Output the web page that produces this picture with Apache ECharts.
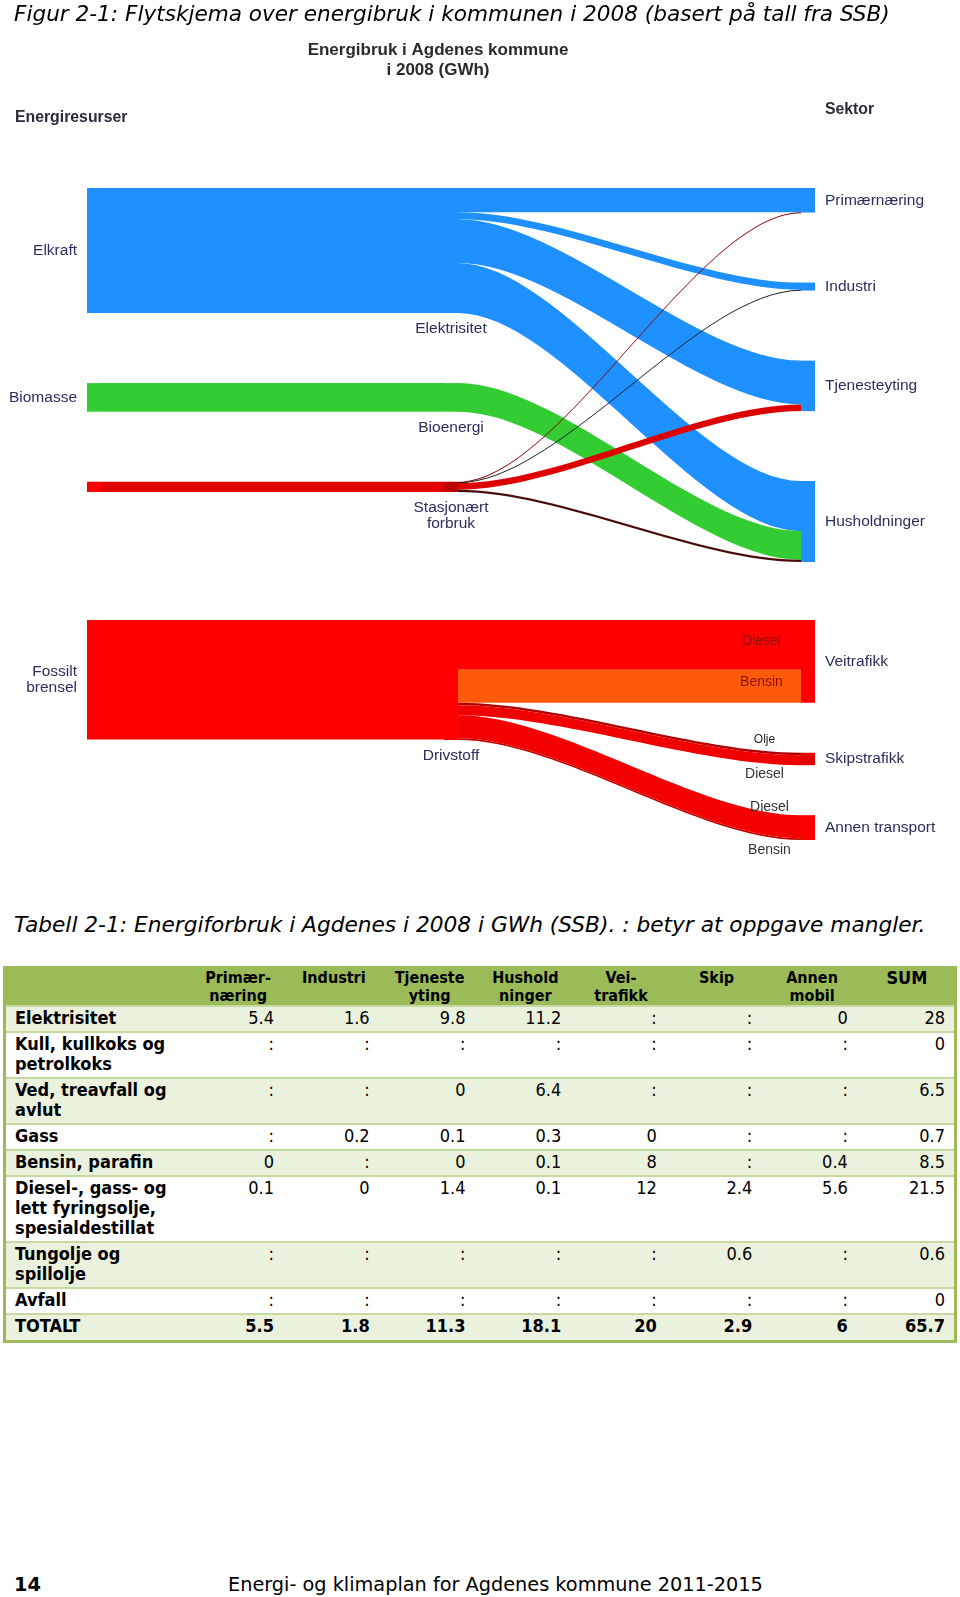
<!DOCTYPE html>
<html><head><meta charset="utf-8">
<script src="https://cdn.jsdelivr.net/npm/echarts@6/dist/echarts.min.js"></script>
<style>
html,body{margin:0;padding:0;background:#fff;}
body{width:960px;height:1597px;position:relative;overflow:hidden;}
.cond{font-family:'DejaVu Sans Condensed','DejaVu Sans',sans-serif;font-stretch:condensed;}
.reg{font-family:'DejaVu Sans',sans-serif;}
#cap{position:absolute;left:14px;top:1px;font-size:21.6px;font-style:italic;color:#000;z-index:2;white-space:nowrap;}
#chart{position:absolute;left:0;top:0;width:960px;height:900px;}
#tcap{position:absolute;left:14px;top:912px;font-size:21.7px;font-style:italic;color:#000;white-space:nowrap;}
#tbl{position:absolute;left:3px;top:966px;width:954px;border-collapse:collapse;border:3px solid #9BBB59;}
#tbl td,#tbl th{padding:1px 12px 3px 8px;vertical-align:top;line-height:20px;font-size:18px;color:#000;}
#tbl th{background:#9BBB59;font-size:16px;line-height:17.5px;text-align:center;padding:0 4px 1px 4px;}
#tbl th.sum{font-size:18px;}
#tbl td{text-align:right;font-weight:normal;border-top:2px solid #C6D9A0;}
#tbl td.last{padding-right:9px;}
#tbl td.name{text-align:left;font-weight:bold;padding-left:9px;}
#tbl tr.band td{background:#EAF1DD;}
#tbl tr.tot td{font-weight:bold;padding-bottom:4px;}
#f1{position:absolute;left:14px;top:1573px;font-size:19.3px;font-weight:bold;}
#f2{position:absolute;left:228px;top:1573px;font-size:19.3px;}
</style></head>
<body>
<div id="cap" class="reg">Figur 2-1: Flytskjema over energibruk i kommunen i 2008 (basert på tall fra SSB)</div>
<div id="chart"></div>
<div id="tcap" class="reg">Tabell 2-1: Energiforbruk i Agdenes i 2008 i GWh (SSB). : betyr at oppgave mangler.</div>
<table id="tbl" class="cond"></table>
<div id="f1" class="reg">14</div>
<div id="f2" class="reg">Energi- og klimaplan for Agdenes kommune 2011-2015</div>
<script>
// ---------- Flow diagram data ----------
// Part A: electricity, bioenergy and stationary fossil use
const sourceNodesA = ['Elkraft', 'Biomasse', 'Fossilt (stasjonært)'];
const carrierNodesA = ['Elektrisitet', 'Bioenergi', 'Stasjonært forbruk'];
const sectorNodesA = ['Primærnæring', 'Industri', 'Tjenesteyting', 'Husholdninger'];
const linkFromA  = ['Elkraft', 'Biomasse', 'Fossilt (stasjonært)',
  'Elektrisitet', 'Elektrisitet', 'Elektrisitet', 'Elektrisitet',
  'Bioenergi',
  'Stasjonært forbruk', 'Stasjonært forbruk', 'Stasjonært forbruk', 'Stasjonært forbruk'];
const linkToA    = ['Elektrisitet', 'Bioenergi', 'Stasjonært forbruk',
  'Primærnæring', 'Industri', 'Tjenesteyting', 'Husholdninger',
  'Husholdninger',
  'Primærnæring', 'Industri', 'Tjenesteyting', 'Husholdninger'];
const linkValueA = [28, 6.4, 2.3,
  5.4, 1.6, 9.8, 11.2,
  6.4,
  0.1, 0.2, 1.5, 0.5];
const linkColorA = ['#1E90FF', '#33CC33', '#E00000',
  '#1E90FF', '#1E90FF', '#1E90FF', '#1E90FF',
  '#33CC33',
  '#8B0000', '#222222', '#DD0000', '#4A0A0A'];

// Part B: transport fuels
const sourceNodesB = ['Fossilt brensel'];
const carrierNodesB = ['Drivstoff'];
const sectorNodesB = ['Veitrafikk', 'Skipstrafikk', 'Annen transport'];
const linkFromB  = ['Fossilt brensel', 'Drivstoff', 'Drivstoff', 'Drivstoff', 'Drivstoff', 'Drivstoff', 'Drivstoff'];
const linkToB    = ['Drivstoff', 'Veitrafikk', 'Veitrafikk', 'Skipstrafikk', 'Skipstrafikk', 'Annen transport', 'Annen transport'];
const linkValueB = [28.9, 12, 8, 0.6, 2.4, 5.6, 0.4];
const linkFuelB  = ['', 'Diesel', 'Bensin', 'Olje', 'Diesel', 'Diesel', 'Bensin'];
const linkColorB = ['#FF0000', '#FF0000', '#FF5A0A', '#B00000', '#F00000', '#F40000', '#C00000'];

// label placement styling (not data)
const fuelLabelStyle = {
  'Veitrafikk|Diesel': {offset: [132, -4], color: '#8a1010'},
  'Veitrafikk|Bensin': {offset: [132, -4], color: '#8a1010'},
  'Skipstrafikk|Olje': {offset: [135, 11], color: '#222', fontSize: 12},
  'Skipstrafikk|Diesel': {offset: [135, 39], color: '#333'},
  'Annen transport|Diesel': {offset: [140, 30], color: '#333'},
  'Annen transport|Bensin': {offset: [140, 61], color: '#333'}
};

const nodeLabels = {'Fossilt brensel': 'Fossilt\nbrensel', 'Stasjonært forbruk': 'Stasjonært\nforbruk', 'Fossilt (stasjonært)': ''};
const nodeColor = {
  'Elkraft': '#1E90FF', 'Biomasse': '#33CC33', 'Fossilt (stasjonært)': '#FF0000', 'Fossilt brensel': '#FF0000',
  'Elektrisitet': '#1E90FF', 'Bioenergi': '#33CC33', 'Stasjonært forbruk': '#C00000', 'Drivstoff': '#FF0000',
  'Primærnæring': '#1E90FF', 'Industri': '#1E90FF', 'Tjenesteyting': '#1E90FF', 'Husholdninger': '#1E90FF',
  'Veitrafikk': '#FF0000', 'Skipstrafikk': '#E00000', 'Annen transport': '#FF0000'
};

// ---------- Table data ----------
const colHeads = ['Primær-\nnæring', 'Industri', 'Tjeneste\nyting', 'Hushold\nninger', 'Vei-\ntrafikk', 'Skip', 'Annen\nmobil', 'SUM'];
const rowNames = ['Elektrisitet', 'Kull, kullkoks og\npetrolkoks', 'Ved, treavfall og\navlut', 'Gass', 'Bensin, parafin',
  'Diesel-, gass- og\nlett fyringsolje,\nspesialdestillat', 'Tungolje og\nspillolje', 'Avfall', 'TOTALT'];
const rowElektrisitet = ['5.4', '1.6', '9.8', '11.2', ':', ':', '0', '28'];
const rowKull         = [':', ':', ':', ':', ':', ':', ':', '0'];
const rowVed          = [':', ':', '0', '6.4', ':', ':', ':', '6.5'];
const rowGass         = [':', '0.2', '0.1', '0.3', '0', ':', ':', '0.7'];
const rowBensin       = ['0', ':', '0', '0.1', '8', ':', '0.4', '8.5'];
const rowDiesel       = ['0.1', '0', '1.4', '0.1', '12', '2.4', '5.6', '21.5'];
const rowTungolje     = [':', ':', ':', ':', ':', '0.6', ':', '0.6'];
const rowAvfall       = [':', ':', ':', ':', ':', ':', ':', '0'];
const rowTotalt       = ['5.5', '1.8', '11.3', '18.1', '20', '2.9', '6', '65.7'];
const rowValues = [rowElektrisitet, rowKull, rowVed, rowGass, rowBensin, rowDiesel, rowTungolje, rowAvfall, rowTotalt];

// build table
(function () {
  const t = document.getElementById('tbl');
  const esc = s => s.replace(/&/g, '&amp;').replace(/</g, '&lt;').replace(/\n/g, '<br>');
  let h = '<colgroup><col style="width:186px">' + colHeads.map(() => '<col style="width:96px">').join('') + '</colgroup>';
  h += '<tr><th></th>' + colHeads.map((c, i) => '<th' + (i === colHeads.length - 1 ? ' class="sum"' : '') + '>' + esc(c) + '</th>').join('') + '</tr>';
  rowNames.forEach((n, r) => {
    const cls = (r === rowNames.length - 1 ? 'tot band' : (r % 2 === 0 ? 'band' : ''));
    h += '<tr class="' + cls + '"><td class="name">' + esc(n) + '</td>' +
      rowValues[r].map((v, i) => '<td' + (i === rowValues[r].length - 1 ? ' class="last"' : '') + '>' + esc(v) + '</td>').join('') + '</tr>';
  });
  t.innerHTML = h;
})();

// build chart
function makeNodes(src, car, sec) {
  return [].concat(src, car, sec).map(n => {
    const depth = src.includes(n) ? 0 : car.includes(n) ? 1 : 2;
    return {
      name: n, depth: depth,
      itemStyle: {color: nodeColor[n], borderWidth: 0},
      label: {position: depth === 0 ? 'left' : depth === 1 ? 'bottom' : 'right', distance: depth === 1 ? 8 : 10}
    };
  });
}
function makeLinks(from, to, val, col, fuel) {
  return from.map((s, i) => {
    const f = fuel ? fuel[i] : '';
    const link = {
      source: s, target: to[i], value: val[i], fuel: f,
      lineStyle: {color: col[i], opacity: 1}
    };
    const st = fuelLabelStyle[to[i] + '|' + f];
    if (st) link.edgeLabel = Object.assign({show: true}, st);
    return link;
  });
}
const baseSeries = {
  type: 'sankey', left: 87, right: 145, nodeWidth: 14, layoutIterations: 0, nodeAlign: 'justify',
  draggable: false, emphasis: {disabled: true},
  lineStyle: {curveness: 0.3, opacity: 1},
  label: {fontFamily: 'Liberation Sans', fontSize: 15.5, color: '#2b2d5e',
    formatter: p => (nodeLabels[p.name] !== undefined ? nodeLabels[p.name] : p.name)},
  edgeLabel: {show: true, fontFamily: 'Liberation Sans', fontSize: 14, color: '#3a1010',
    formatter: p => (p.data && p.data.fuel) || ''}
};

const chart = echarts.init(document.getElementById('chart'), null, {renderer: 'canvas'});
chart.setOption({
  backgroundColor: 'transparent',
  animation: false,
  title: [
    {text: 'Energibruk i Agdenes kommune\ni 2008 (GWh)', left: 438, top: 40, textAlign: 'center', padding: 0,
      textStyle: {fontFamily: 'Liberation Sans', fontSize: 17, fontWeight: 'bold', color: '#2a2a2a', lineHeight: 20}},
    {text: 'Energiresurser', left: 15, top: 110, padding: 0,
      textStyle: {fontFamily: 'Liberation Sans', fontSize: 15.8, fontWeight: 'bold', color: '#2a2a3a'}},
    {text: 'Sektor', left: 825, top: 102, padding: 0,
      textStyle: {fontFamily: 'Liberation Sans', fontSize: 15.8, fontWeight: 'bold', color: '#2a2a3a'}}
  ],
  series: [
    Object.assign({}, baseSeries, {
      top: 188, bottom: 900 - 562, nodeGap: 70,
      data: makeNodes(sourceNodesA, carrierNodesA, sectorNodesA),
      links: makeLinks(linkFromA, linkToA, linkValueA, linkColorA)
    }),
    Object.assign({}, baseSeries, {
      top: 620, bottom: 900 - 840, nodeGap: 50,
      data: makeNodes(sourceNodesB, carrierNodesB, sectorNodesB),
      links: makeLinks(linkFromB, linkToB, linkValueB, linkColorB, linkFuelB)
    })
  ]
});
</script>
</body></html>
